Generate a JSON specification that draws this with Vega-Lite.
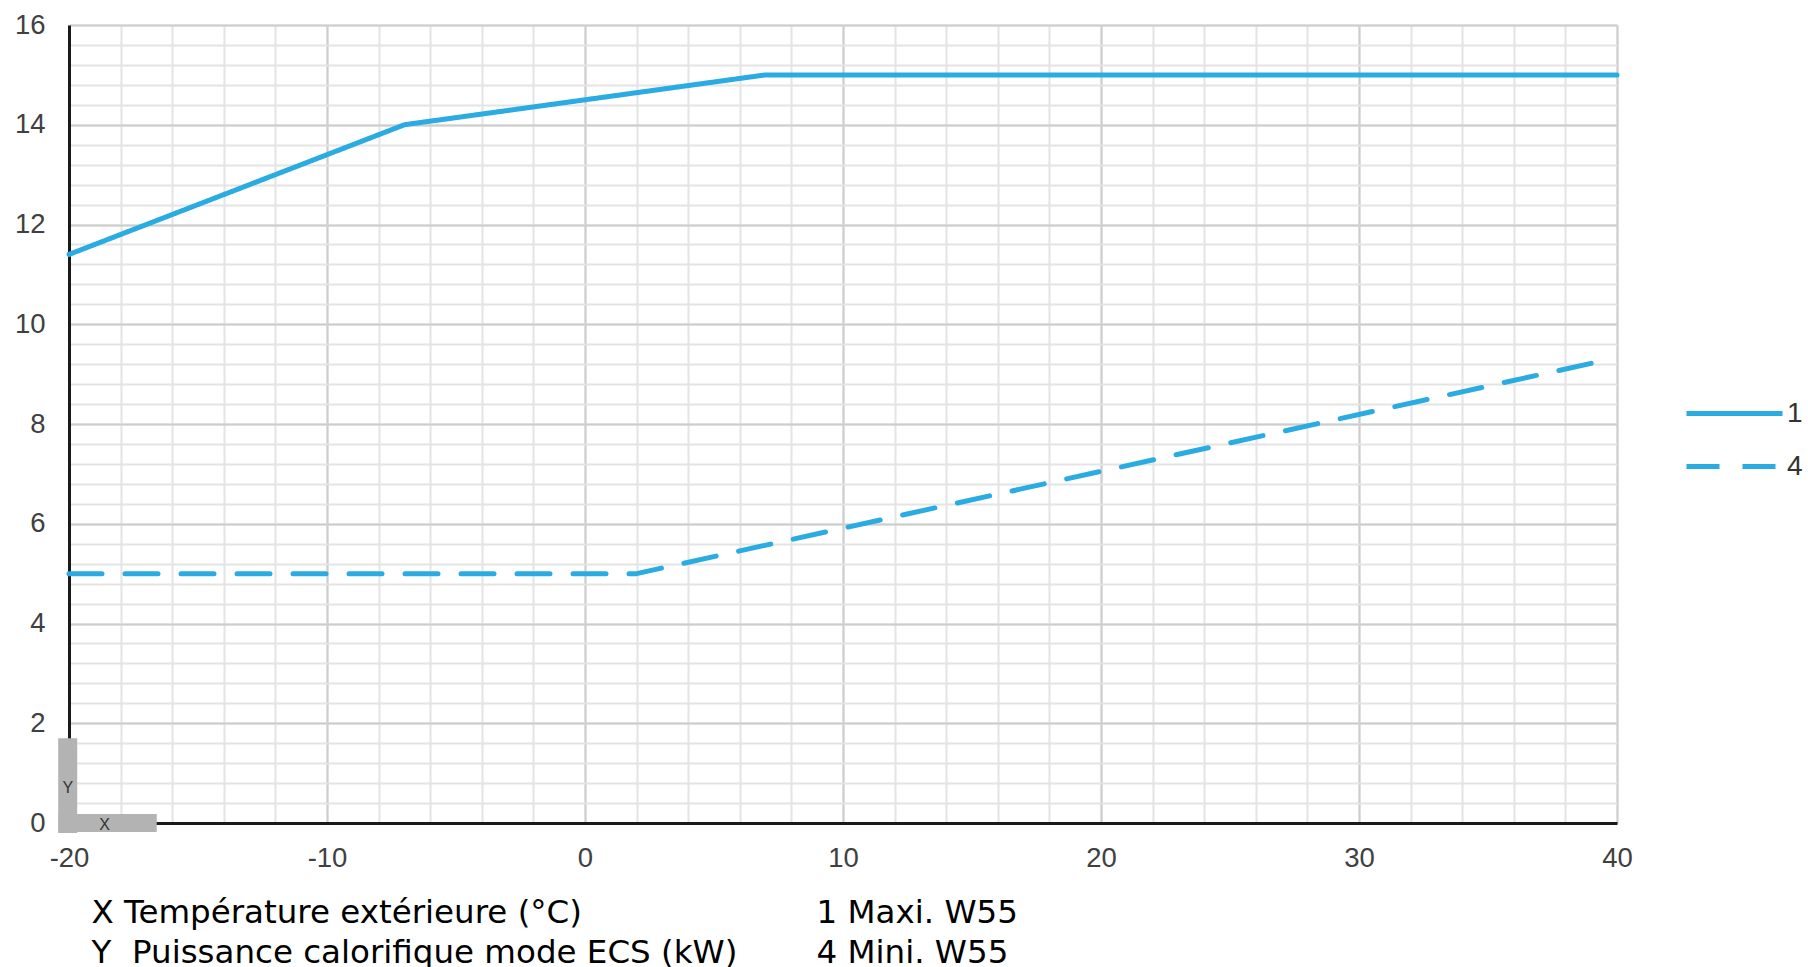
{
  "$schema": "https://vega.github.io/schema/vega-lite/v6.json",
  "width": 1548,
  "height": 798,
  "autosize": {"type": "none"},
  "padding": {"left": 69, "top": 25, "right": 191, "bottom": 144},
  "background": "white",
  "config": {"view": {"stroke": null}},
  "datasets": {
    "curves": [
      {"temp": -20, "kw": 11.4, "serie": "1"},
      {"temp": -7, "kw": 14, "serie": "1"},
      {"temp": 7, "kw": 15, "serie": "1"},
      {"temp": 40, "kw": 15, "serie": "1"},
      {"temp": -20, "kw": 5, "serie": "4"},
      {"temp": 2, "kw": 5, "serie": "4"},
      {"temp": 39.3, "kw": 9.25, "serie": "4"}
    ]
  },
  "data": {"name": "curves"},
  "layer": [
    {
      "mark": {"type": "point", "opacity": 0},
      "encoding": {
        "x": {
          "field": "temp", "type": "quantitative",
          "scale": {"domain": [-20, 40], "nice": false, "zero": false},
          "axis": {
            "orient": "top",
            "values": [-20,-18,-16,-14,-12,-10,-8,-6,-4,-2,0,2,4,6,8,10,12,14,16,18,20,22,24,26,28,30,32,34,36,38,40],
            "grid": true, "gridColor": "#e4e4e4", "gridWidth": 2,
            "labels": false, "ticks": false, "domain": false, "title": null
          }
        },
        "y": {
          "field": "kw", "type": "quantitative",
          "scale": {"domain": [0, 16], "nice": false, "zero": false},
          "axis": {
            "orient": "right",
            "values": [0,0.4,0.8,1.2,1.6,2,2.4,2.8,3.2,3.6,4,4.4,4.8,5.2,5.6,6,6.4,6.8,7.2,7.6,8,8.4,8.8,9.2,9.6,10,10.4,10.8,11.2,11.6,12,12.4,12.8,13.2,13.6,14,14.4,14.8,15.2,15.6,16],
            "grid": true, "gridColor": "#e4e4e4", "gridWidth": 2,
            "labels": false, "ticks": false, "domain": false,
            "title": ["1 Maxi. W55", "4 Mini. W55"],
            "titleAngle": 0, "titleX": -801, "titleY": 897,
            "titleAlign": "left", "titleBaseline": "alphabetic",
            "titleFont": "DejaVu Sans", "titleFontSize": 32.5, "titleFontWeight": "normal",
            "titleColor": "#000000", "titleLineHeight": 40
          }
        }
      }
    },
    {
      "data": {"values": [{}]},
      "mark": {"type": "rule", "color": "#b3b3b3", "strokeWidth": 19, "strokeCap": "butt"},
      "encoding": {
        "x": {"datum": -20.05, "type": "quantitative", "scale": {"domain": [-20, 40], "nice": false, "zero": false}, "axis": null},
        "y": {"datum": -0.2, "type": "quantitative", "scale": {"domain": [0, 16], "nice": false, "zero": false}, "axis": null},
        "y2": {"datum": 1.7}
      }
    },
    {
      "data": {"values": [{}]},
      "mark": {"type": "rule", "color": "#b3b3b3", "strokeWidth": 18, "strokeCap": "butt"},
      "encoding": {
        "x": {"datum": -20.41, "type": "quantitative", "scale": {"domain": [-20, 40], "nice": false, "zero": false}, "axis": null},
        "x2": {"datum": -16.6},
        "y": {"datum": 0, "type": "quantitative", "scale": {"domain": [0, 16], "nice": false, "zero": false}, "axis": null}
      }
    },
    {
      "data": {"values": [{}]},
      "mark": {"type": "text", "text": "Y", "font": "Liberation Sans", "fontSize": 16, "color": "#333333", "align": "center", "baseline": "middle"},
      "encoding": {
        "x": {"datum": -20.05, "type": "quantitative", "scale": {"domain": [-20, 40], "nice": false, "zero": false}, "axis": null},
        "y": {"datum": 0.7, "type": "quantitative", "scale": {"domain": [0, 16], "nice": false, "zero": false}, "axis": null}
      }
    },
    {
      "data": {"values": [{}]},
      "mark": {"type": "text", "text": "X", "font": "Liberation Sans", "fontSize": 16, "color": "#333333", "align": "center", "baseline": "middle"},
      "encoding": {
        "x": {"datum": -18.62, "type": "quantitative", "scale": {"domain": [-20, 40], "nice": false, "zero": false}, "axis": null},
        "y": {"datum": -0.04, "type": "quantitative", "scale": {"domain": [0, 16], "nice": false, "zero": false}, "axis": null}
      }
    },
    {
      "mark": {"type": "line", "strokeWidth": 5, "color": "#2aabe2", "strokeCap": "round", "strokeJoin": "round"},
      "encoding": {
        "x": {
          "field": "temp", "type": "quantitative",
          "scale": {"domain": [-20, 40], "nice": false, "zero": false},
          "axis": {
            "orient": "bottom",
            "values": [-20, -10, 0, 10, 20, 30, 40],
            "labelExpr": "'' + datum.value",
            "grid": true, "gridColor": "#cdcdcd", "gridWidth": 2,
            "domain": true, "domainColor": "#1a1a1a", "domainWidth": 3,
            "ticks": false, "labelFlush": false,
            "labelFont": "Liberation Sans", "labelFontSize": 27.5, "labelColor": "#404040", "labelPadding": 21,
            "title": ["X Température extérieure (°C)", "Y\u00a0 Puissance calorifique mode ECS (kW)"],
            "titleFont": "DejaVu Sans", "titleFontSize": 32.5, "titleFontWeight": "normal",
            "titleColor": "#000000", "titleAnchor": "start", "titleAlign": "left",
            "titleX": 22, "titleY": 99, "titleBaseline": "alphabetic", "titleLineHeight": 40
          }
        },
        "y": {
          "field": "kw", "type": "quantitative",
          "scale": {"domain": [0, 16], "nice": false, "zero": false},
          "axis": {
            "orient": "left",
            "values": [0, 2, 4, 6, 8, 10, 12, 14, 16],
            "grid": true, "gridColor": "#cdcdcd", "gridWidth": 2,
            "domain": true, "domainColor": "#1a1a1a", "domainWidth": 3,
            "ticks": false, "labelFlush": false,
            "labelFont": "Liberation Sans", "labelFontSize": 27.5, "labelColor": "#404040", "labelPadding": 24,
            "title": null
          }
        },
        "strokeDash": {
          "field": "serie", "type": "nominal",
          "scale": {"domain": ["1", "4"], "range": [[1, 0], [33, 23]]},
          "legend": {
            "orient": "none", "legendX": 1651, "legendY": 374,
            "title": null, "symbolType": "M-4,0H4", "symbolSize": 576,
            "symbolStrokeWidth": 5, "symbolStrokeColor": "#2aabe2", "symbolFillColor": "transparent",
            "labelFont": "Liberation Sans", "labelFontSize": 28, "labelColor": "#333333",
            "labelOffset": 38, "rowPadding": 24
          }
        }
      }
    }
  ],
  "resolve": {"axis": {"x": "independent", "y": "independent"}}
}
